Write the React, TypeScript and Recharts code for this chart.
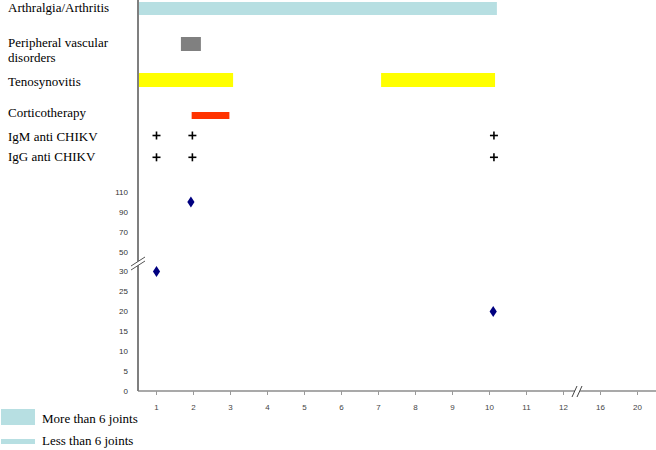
import React from 'react';
import { ComposedChart, XAxis, YAxis, Scatter, ReferenceArea } from 'recharts';

// x axis: one slot per labelled day, the scale jumps after day 12
const dayTicks = [1, 2, 3, 4, 5, 6, 7, 8, 9, 10, 11, 12, 13, 14];
const dayLabels = ['1', '2', '3', '4', '5', '6', '7', '8', '9', '10', '11', '12', '16', '20'];

// lower panel, broken value axis
const valueTicks = [0, 5, 10, 15, 20, 25, 30, 50, 70, 90, 110];
const measureDays = [1, 1.93, 10.1];
const measureValues = [30, 100, 20];

// clinical course, [start, end] in day slots
const arthralgiaSpans = [[0.5, 10.2]];
const vascularSpans = [[1.66, 2.2]];
const tenosynovitisSpans = [[0.5, 3.07], [7.07, 10.15]];
const corticoSpans = [[1.95, 2.97]];
const igmDays = [1, 1.97, 10.12];
const iggDays = [1, 1.97, 10.12];

const legendLabels = ['More than 6 joints', 'Less than 6 joints'];

// layout
const WIDTH = 656;
const PLOT_LEFT = 138;
const PLOT_BOTTOM = 391;
const PX_PER_UNIT = 19.9;
const X_MIN = 0.5;
const Y_MAX = PLOT_BOTTOM / PX_PER_UNIT;
const rowY = (px: number) => (PLOT_BOTTOM - px) / PX_PER_UNIT;

// 0-30 by 5, then 50-110 by 20, same spacing
const toAxis = (v: number) => (v <= 30 ? v / 5 : 6 + (v - 30) / 20);

const SERIF = '"Liberation Serif", "Times New Roman", serif';
const SANS = '"Liberation Sans", Arial, sans-serif';
const TEAL = '#b7dfe2';

type Row = {
  label: string[];
  center: number;
  half: number;
  textDy: number;
  color?: string;
  spans?: number[][];
  marks?: number[];
};

const rows: Row[] = [
  { label: ['Arthralgia/Arthritis'], center: 8.5, half: 6.5, textDy: 3, color: TEAL, spans: arthralgiaSpans },
  { label: ['Peripheral vascular', 'disorders'], center: 44, half: 7, textDy: 3.3, color: '#808080', spans: vascularSpans },
  { label: ['Tenosynovitis'], center: 80, half: 7, textDy: 6, color: '#ffff00', spans: tenosynovitisSpans },
  { label: ['Corticotherapy'], center: 115.5, half: 3.5, textDy: 1, color: '#ff3300', spans: corticoSpans },
  { label: ['IgM anti CHIKV'], center: 135.5, half: 0, textDy: 5, marks: igmDays },
  { label: ['IgG anti CHIKV'], center: 157.3, half: 0, textDy: 4, marks: iggDays },
];

const valueAxisTicks = valueTicks.map(toAxis);
const yTicks = [...valueAxisTicks, ...rows.map((r) => rowY(r.center))];

const YTick = (props: any) => {
  const { x, y, payload } = props;
  const row = rows.find((r) => Math.abs(rowY(r.center) - payload.value) < 1e-6);
  if (row) {
    return (
      <text x={8} y={y + row.textDy} fontFamily={SERIF} fontSize={13} fill="#000">
        {row.label.map((line, i) => (
          <tspan key={i} x={8} dy={i === 0 ? 0 : 14.5}>
            {line}
          </tspan>
        ))}
      </text>
    );
  }
  const i = valueAxisTicks.findIndex((t) => Math.abs(t - payload.value) < 1e-6);
  return (
    <text x={x} y={y} dy="0.35em" textAnchor="end" fontFamily={SANS} fontSize={8} fill="#333">
      {valueTicks[i]}
    </text>
  );
};

const PlusMark = (props: any) => {
  const { cx, cy } = props;
  return (
    <g stroke="#000" strokeWidth={1.6}>
      <line x1={cx - 4} y1={cy} x2={cx + 4} y2={cy} />
      <line x1={cx} y1={cy - 4} x2={cx} y2={cy + 4} />
    </g>
  );
};

const Diamond = (props: any) => {
  const { cx, cy } = props;
  return (
    <polygon
      points={`${cx},${cy - 5.5} ${cx + 3.6},${cy} ${cx},${cy + 5.5} ${cx - 3.6},${cy}`}
      fill="#000080"
    />
  );
};

const App: React.FC = () => {
  const measures = measureDays.map((d, i) => ({ x: d, y: toAxis(measureValues[i]) }));

  return (
    <div style={{ position: 'absolute', left: 0, top: 0, width: WIDTH, height: 450, background: '#fff' }}>
      <ComposedChart width={WIDTH} height={420} margin={{ top: 0, right: 0, bottom: 0, left: 0 }}>
        <XAxis
          type="number"
          dataKey="x"
          domain={[X_MIN, 14.5]}
          ticks={dayTicks}
          interval={0}
          allowDataOverflow
          tickFormatter={(v: number) => dayLabels[v - 1]}
          height={29}
          tickSize={4}
          tickMargin={9}
          axisLine={{ stroke: '#555', strokeWidth: 1.2 }}
          tickLine={{ stroke: '#999' }}
          tick={{ fontSize: 8, fill: '#444', fontFamily: SANS }}
        />
        <YAxis
          type="number"
          dataKey="y"
          domain={[0, Y_MAX]}
          ticks={yTicks}
          interval={0}
          allowDataOverflow
          width={PLOT_LEFT}
          tickSize={6}
          tickMargin={4}
          tickLine={false}
          axisLine={false}
          tick={<YTick />}
        />
        {rows.flatMap((r, ri) =>
          (r.spans || []).map((s, si) => (
            <ReferenceArea
              key={`${ri}-${si}`}
              x1={s[0]}
              x2={s[1]}
              y1={rowY(r.center + r.half)}
              y2={rowY(r.center - r.half)}
              fill={r.color}
              fillOpacity={1}
              stroke="none"
              ifOverflow="visible"
            />
          ))
        )}
        {rows
          .filter((r) => r.marks)
          .map((r, ri) => (
            <Scatter
              key={`m${ri}`}
              data={(r.marks || []).map((d) => ({ x: d, y: rowY(r.center) }))}
              shape={(p: any) => <PlusMark {...p} />}
              isAnimationActive={false}
            />
          ))}
        <Scatter data={measures} shape={(p: any) => <Diamond {...p} />} isAnimationActive={false} />
      </ComposedChart>

      {/* value axis line and axis breaks */}
      <svg
        width={WIDTH}
        height={420}
        style={{ position: 'absolute', left: 0, top: 0, pointerEvents: 'none' }}
      >
        <rect x={PLOT_LEFT - 1} y={0} width={2} height={PLOT_BOTTOM} fill="#7f7f7f" />
        <polygon points="131,266 145,257 145,261 131,270" fill="#fff" />
        <line x1={131} y1={266} x2={145} y2={257} stroke="#555" strokeWidth={1} />
        <line x1={131} y1={270} x2={145} y2={261} stroke="#555" strokeWidth={1} />
        <polygon points="572,397 577,386 582,386 577,397" fill="#fff" />
        <line x1={582} y1={PLOT_BOTTOM} x2={WIDTH} y2={PLOT_BOTTOM} stroke="#aaa" strokeWidth={1.6} />
        <line x1={572} y1={397} x2={577} y2={386} stroke="#444" strokeWidth={1} />
        <line x1={577} y1={397} x2={582} y2={386} stroke="#444" strokeWidth={1} />
      </svg>

      {/* legend */}
      <div style={{ position: 'absolute', left: 1, top: 409, width: 34, height: 16, background: TEAL }} />
      <div style={{ position: 'absolute', left: 1, top: 439, width: 34, height: 5, background: TEAL }} />
      {legendLabels.map((t, i) => (
        <div
          key={t}
          style={{
            position: 'absolute',
            left: 42,
            top: i === 0 ? 411 : 433,
            fontFamily: SERIF,
            fontSize: 13,
            lineHeight: '15px',
            color: '#000',
            whiteSpace: 'nowrap',
          }}
        >
          {t}
        </div>
      ))}
    </div>
  );
};

export default App;
